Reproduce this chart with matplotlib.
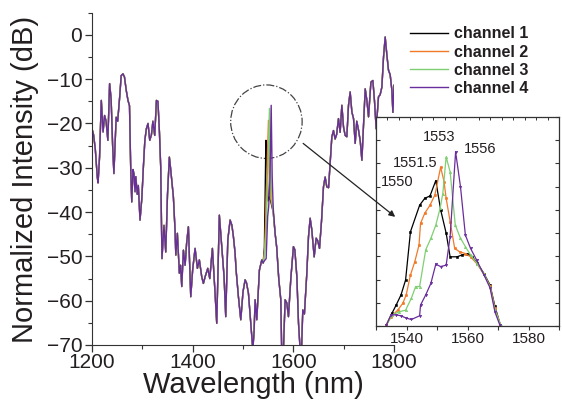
import numpy as np
import matplotlib
matplotlib.use("Agg")
import matplotlib.pyplot as plt
from matplotlib.patches import Ellipse, ConnectionPatch
from matplotlib.ticker import MultipleLocator, FixedLocator

plt.rcParams['font.family'] = ['Liberation Sans', 'DejaVu Sans']
TXT = '#231f20'

# ---- main spectrum, shared part (nm, dB) ----
wl_base = [1200, 1203, 1206.5, 1210.5, 1212, 1215, 1218.5, 1222, 1225, 1228, 1231.5, 1235,
           1238, 1241, 1243.5, 1248, 1251, 1255, 1258, 1261.5, 1264.5, 1268, 1271.5, 1274.5,
           1277, 1279, 1281.5, 1283.5, 1285.5, 1287, 1290, 1292, 1295.4, 1299, 1302, 1305,
           1308, 1311.3, 1314.7, 1318, 1321, 1324.6, 1328, 1331, 1334, 1336.5, 1339, 1343,
           1346.5, 1350, 1353.7, 1356, 1358.4, 1361.7, 1365, 1366.5, 1369.6, 1373.6, 1376,
           1378.3, 1381.6, 1385, 1388, 1391.5, 1396.2, 1400, 1404.8, 1409.4, 1413.3, 1418,
           1421.3, 1425, 1430, 1434, 1439.2, 1444.5, 1447.8, 1453, 1457.8, 1462.4, 1465.7,
           1469.8, 1474.4, 1478, 1481, 1484.3, 1486.3, 1490.9, 1495.6, 1500, 1504.2, 1507,
           1510.8, 1515.5, 1519.5, 1522, 1524.1, 1527.4, 1532.6, 1537.3, 1540]
db_base = [-21.2, -22.5, -25.7, -32.1, -33.4, -27.6, -14.8, -21.9, -18.2, -19.5, -23.8, -11,
           -14.5, -25, -31.3, -18.6, -19.5, -14, -9.2, -8.8, -9.5, -12.5, -14.8, -16,
           -30.6, -37.7, -30.4, -31.5, -35.4, -32, -36, -34, -41.8, -36.9, -30, -23.8,
           -21.2, -20, -23.8, -22.6, -19.5, -22.7, -14.8, -15, -22, -29.8, -50.5, -43,
           -49, -36, -27.6, -30, -32.8, -36.6, -44.1, -49.7, -44.8, -53.8, -52,
           -56.8, -48.6, -52, -47, -43.3, -59.1, -53, -48.2, -52.7, -50.8, -54.6,
           -56.1, -54.5, -52.7, -55, -48.2, -58.3, -65.1, -40.7, -47.8, -54.6, -63.6,
           -46.3, -41.8, -43, -45.6, -49.3, -53.1, -59.1, -64.3, -58, -55.3, -56,
           -58.3, -65.1, -71, -67, -59.8, -64.3, -53.1, -50.8, -51.5]

wl_tail = [1563.8, 1567, 1571, 1575.1, 1577, 1580, 1583.7, 1587, 1590.3, 1595, 1600.2, 1603,
           1607, 1610.3, 1613.5, 1616, 1618.8, 1622, 1626.8, 1630.1, 1633.4, 1636.7, 1641.4,
           1645.3, 1648.5, 1652, 1656, 1659.9, 1663.2, 1666.5, 1670, 1673.2, 1676.5, 1679.8,
           1683, 1686, 1689.7, 1693, 1696.4, 1699.7, 1703, 1706.3, 1709.6, 1712.9, 1716.3,
           1719.6, 1722.9, 1726, 1729.5, 1733, 1736.2, 1739.5, 1742.8, 1746.1, 1749.4, 1754.1,
           1758, 1761.3, 1764.6, 1769.2, 1772.5, 1775.9, 1779.2, 1782.5, 1785.8, 1789.1,
           1792.4, 1795.8, 1797.8, 1800]
db_tail = [-44.8, -48, -55, -59.8, -72, -72, -59.8, -60.5, -63.6, -55, -47.8, -48.5,
           -54.6, -65.1, -71, -72, -62.1, -63, -53.8, -45.6, -41.4, -44, -50.1,
           -45.9, -46.5, -48.2, -42, -34.3, -32.1, -34.3, -34.5, -29, -23, -21.6,
           -23.5, -22.5, -18.9, -22, -15.9, -20.8, -22.7, -23, -15.9, -12.9, -17.4,
           -18.9, -24.5, -19.5, -21.5, -24, -28.3, -20, -12.2, -14.8, -18.5, -10.7,
           -10.3, -15, -21.2, -14, -13.5, -11.8, -5, -0.5, -4.5, -8,
           -9, -12.5, -17.5, -11.4]

# ---- per-channel peak region of the main spectrum ----
wl_peak = {
    1: [1542.5, 1544, 1545.5, 1547.5, 1550, 1553, 1557, 1560],
    2: [1542.5, 1545, 1548, 1550.6, 1552.5, 1555, 1558, 1560],
    3: [1542.5, 1546, 1549.5, 1552.6, 1554.5, 1557, 1560],
    4: [1542.5, 1546, 1549, 1551, 1553.5, 1556, 1558, 1560],
}
db_peak = {
    1: [-48, -35, -23.8, -29, -37.5, -36.5, -38.5, -40],
    2: [-49, -42, -29, -19.3, -31, -37, -38.5, -40],
    3: [-50, -44, -31, -16.6, -29, -37, -40],
    4: [-51, -50.5, -41, -38.8, -33, -15.9, -32, -39],
}

# ---- inset (zoom on the peak, arbitrary dB scale) ----
wl_in = {
    1: [1533.4, 1535.2, 1536.6, 1538.2, 1539.7, 1541.3, 1544.3, 1546, 1547.7, 1549.6, 1551.2,
        1553, 1554.3, 1556.6, 1558.2, 1559.9, 1561.6, 1563.2, 1565.4, 1567.4, 1569, 1570.8],
    2: [1533.4, 1534.9, 1537.1, 1538.8, 1539.9, 1541.3, 1542.7, 1544.1, 1544.6, 1546, 1547.7,
        1549.3, 1551.2, 1552.3, 1553, 1554.3, 1555.8, 1557.4, 1559.3, 1561, 1563.2, 1565.4,
        1567.4, 1569, 1570.8],
    3: [1533.4, 1535.4, 1537.7, 1539.7, 1541.6, 1543, 1544.3, 1546.3, 1548, 1549.6, 1551,
        1551.9, 1553, 1554.3, 1556, 1557.7, 1559.3, 1561, 1563.2, 1565.4, 1567.4, 1569, 1570.9],
    4: [1533.4, 1534.9, 1536.6, 1538.2, 1539.9, 1541.6, 1544.3, 1544.6, 1546.3, 1548, 1549.6,
        1551.2, 1553, 1554.3, 1556.1, 1557.7, 1559.3, 1561, 1563, 1565.4, 1567.4, 1569, 1570.6],
}
db_in = {
    1: [-44.8, -42.3, -40.5, -38.3, -35.1, -24.7, -19, -17.5, -17, -13.7, -20,
        -25, -30.1, -30.1, -29.7, -29.4, -30.1, -31.5, -33.7, -36.2, -40.8, -44.8],
    2: [-44.8, -43, -41.6, -40.1, -38.3, -34, -31.2, -27.6, -22.9, -20.7, -19,
        -16.8, -10.8, -13.9, -17.5, -22.5, -28.3, -29, -29.4, -30.1, -31.7, -33.9,
        -36.4, -41.2, -44.8],
    3: [-44.8, -42.6, -41.9, -41.6, -39, -36.5, -36.5, -28.6, -26.1, -23.3, -19.7,
        -16.5, -8.6, -11.8, -23.3, -26.1, -27.9, -29.7, -31.6, -33.8, -36.6, -41.5, -44.8],
    4: [-44.8, -42.6, -42.6, -42.8, -43.3, -43.6, -42.8, -40.5, -38.3, -35.8, -31.7,
        -32.2, -31.9, -25.8, -7.5, -15, -25.4, -28.3, -30.8, -34, -36.8, -42, -44.8],
}
peak_labels = ['1550', '1551.5', '1553', '1556']
peak_label_x = [1536.8, 1543.0, 1550.7, 1564.0]
peak_label_y = [-14.1, -9.8, -4.3, -6.9]

colors = {1: '#000000', 2: '#f07a28', 3: '#7fcf72', 4: '#6a2d9c'}
markers = {1: 's', 2: 'o', 3: '^', 4: 'v'}

fig = plt.figure(figsize=(5.62, 4.07), dpi=100)
ax = fig.add_axes([92 / 562, 62 / 407, 302 / 562, 332.3 / 407])

for ch in [1, 2, 3, 4]:
    wl = wl_base + wl_peak[ch] + wl_tail
    db = db_base + db_peak[ch] + db_tail
    ax.plot(wl, db, color=colors[ch], lw=1.0, label=f'channel {ch}')

ax.set_xlim(1200, 1800)
ax.set_ylim(-70, 5)
ax.xaxis.set_major_locator(FixedLocator([1200, 1400, 1600, 1800]))
ax.xaxis.set_minor_locator(MultipleLocator(100))
ax.yaxis.set_major_locator(FixedLocator(list(range(-70, 1, 10))))
ax.yaxis.set_minor_locator(MultipleLocator(5))
for s in ['top', 'right']:
    ax.spines[s].set_visible(False)
for s in ['left', 'bottom']:
    ax.spines[s].set_color('#333333')
ax.tick_params(axis='both', which='major', direction='out', length=5, width=0.9,
               labelsize=15, colors='#333333', labelcolor=TXT)
ax.tick_params(axis='both', which='minor', direction='out', length=3, width=0.8,
               colors='#333333')
ax.tick_params(axis='x', which='major', pad=1)
ax.tick_params(axis='y', which='major', pad=2)
ax.set_xlabel('Wavelength (nm)', fontsize=21, color=TXT, va='top')
ax.set_ylabel('Normalized Intensity (dB)', fontsize=21, color=TXT, va='center')
ax.xaxis.set_label_coords(0.533, -0.078)
ax.yaxis.set_label_coords(-0.222, 0.497)

# dash-dot circle around the peak
ax.add_patch(Ellipse((1546.5, -19.6), 142, 16.6, fill=False, ls='-.', lw=0.9,
                     edgecolor='#444444', clip_on=False))

leg = fig.legend(loc='upper left', bbox_to_anchor=(410 / 562, 0.935), frameon=False,
                 borderpad=0, borderaxespad=0, handlelength=2.4, handletextpad=0.35,
                 labelspacing=0.2, prop={'weight': 'bold', 'size': 11.5})
for t in leg.get_texts():
    t.set_color(TXT)

# ---- inset ----
axi = fig.add_axes([376 / 562, 81 / 407, 183 / 562, 209 / 407])
for ch in [1, 2, 3, 4]:
    axi.plot(wl_in[ch], db_in[ch], color=colors[ch], lw=0.9, marker=markers[ch],
             ms=1.8, mew=0.4)
axi.set_xlim(1530, 1590)
axi.set_ylim(-45, 0)
axi.xaxis.set_major_locator(MultipleLocator(10))
axi.xaxis.set_minor_locator(MultipleLocator(3.75))
axi.set_xticklabels(['' if int(v) % 20 else str(int(v)) for v in axi.get_xticks()])
axi.yaxis.set_major_locator(MultipleLocator(5))
axi.set_yticklabels([])
axi.tick_params(axis='x', which='major', direction='out', length=3, width=0.8,
                labelsize=11, colors='#333333', labelcolor=TXT, pad=1)
axi.tick_params(axis='x', which='minor', bottom=False, top=True, direction='in',
                length=2.5, width=0.7, colors='#333333')
axi.tick_params(axis='y', which='major', left=True, right=True, direction='in',
                length=3, width=0.8, colors='#333333')
for s in axi.spines.values():
    s.set_color('#333333')
    s.set_linewidth(0.9)
for lab, x, y in zip(peak_labels, peak_label_x, peak_label_y):
    axi.text(x, y, lab, fontsize=10.5, color=TXT, ha='center', va='center')

# arrow from circle to inset
arr = ConnectionPatch(xyA=(1619.5, -24.5), coordsA=ax.transData,
                      xyB=(1536.3, -21.5), coordsB=axi.transData,
                      arrowstyle='-|>', mutation_scale=9, lw=0.9, color='#222222')
fig.add_artist(arr)

fig.savefig('out.png', dpi=100)
